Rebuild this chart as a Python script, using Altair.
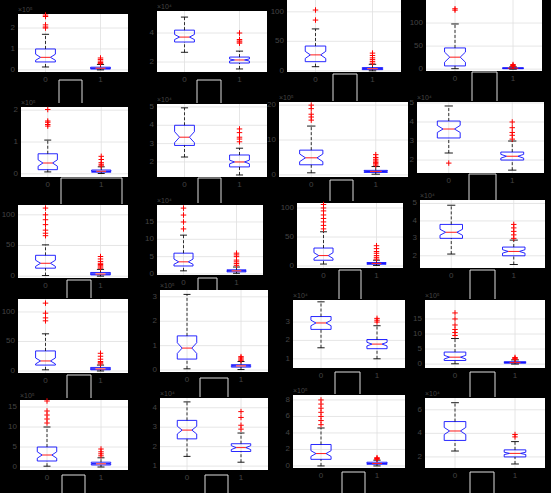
import altair as alt
import pandas as pd

# ---------------- data ----------------
groups = [0, 1]
group_labels = ["0", "1"]
exponents = ["×10⁵", "×10⁴", "", "",
             "×10⁵", "×10⁴", "×10⁵", "×10⁴",
             "", "×10⁴", "", "×10⁴",
             "", "×10⁵", "×10⁴", "×10⁵",
             "×10⁵", "×10⁴", "×10⁵", "×10⁴"]
y_min = [-0.1, 1.31, -2, -4, -0.1, 1.18, -0.6, 1.32, -3, -0.3, -3.4, 1.3,
         -3.4, -0.08, 0.5, -1.3, -0.75, 0.8, -0.25, 1.06]
y_max = [2.67, 5.52, 120, 150, 2.1, 5.16, 20.9, 5.05, 116, 19.9, 108.6, 5.2,
         122, 3.28, 4.2, 21.3, 16.75, 4.5, 8.6, 7.0]
y_ticks = [[0, 1, 2], [2, 4], [0, 50, 100], [0, 50, 100],
           [0, 1, 2], [2, 3, 4, 5], [0, 10, 20], [2, 3, 4, 5],
           [0, 50, 100], [0, 5, 10, 15], [0, 50, 100], [2, 3, 4, 5],
           [0, 50, 100], [0, 1, 2, 3], [1, 2, 3], [0, 5, 10, 15],
           [0, 5, 10, 15], [1, 2, 3, 4], [0, 2, 4, 6, 8], [2, 4, 6]]

q1 = [[0.38, 0.04], [3.38, 1.93], [15.5, 2], [7, 1], [0.13, 0.05], [2.9, 1.73], [2.9, 0.7], [3.16, 2.0],
      [13, 2], [2.3, 0.6], [10, 3], [3.0, 2.0], [10, 2], [0.45, 0.12], [2.6, 1.55], [1.2, 0.3],
      [1.5, 0.5], [2.4, 1.75], [0.8, 0.2], [3.4, 2.0]]
median = [[0.6, 0.08], [3.72, 2.14], [27, 3.5], [26, 2], [0.34, 0.08], [3.35, 2.0], [4.9, 1.0], [3.63, 2.2],
          [21, 3.5], [3.5, 0.9], [18, 4.5], [3.35, 2.25], [17, 3.5], [0.9, 0.17], [2.95, 1.8], [2.3, 0.5],
          [3.0, 0.8], [2.85, 1.95], [1.5, 0.3], [4.2, 2.3]]
q3 = [[1.0, 0.13], [4.2, 2.34], [42, 5.5], [46, 3], [0.63, 0.12], [4.0, 2.38], [7.1, 1.3], [4.05, 2.42],
      [34, 6], [6.0, 1.2], [31, 6], [3.8, 2.5], [34, 6], [1.4, 0.22], [3.3, 2.05], [4.0, 0.8],
      [5.0, 1.2], [3.35, 2.15], [2.6, 0.45], [5.0, 2.6]]
notch_lo = [[0.46, 0.07], [3.55, 2.07], [21, 3], [15, 1.7], [0.24, 0.07], [3.05, 1.9], [3.8, 0.9], [3.45, 2.1],
            [16, 3], [2.8, 0.8], [13, 4], [3.18, 2.15], [12, 3], [0.68, 0.15], [2.8, 1.7], [1.7, 0.45],
            [2.2, 0.7], [2.65, 1.85], [1.15, 0.27], [3.9, 2.2]]
notch_hi = [[0.75, 0.09], [3.9, 2.21], [33, 4], [37, 2.3], [0.44, 0.09], [3.65, 2.1], [6.0, 1.1], [3.82, 2.3],
            [26, 4], [4.3, 1.0], [23, 5], [3.52, 2.35], [22, 4], [1.12, 0.19], [3.1, 1.9], [2.9, 0.55],
            [3.8, 0.9], [3.05, 2.05], [1.85, 0.33], [4.5, 2.4]]
whisker_lo = [[0.14, 0.0], [2.67, 1.52], [7, 0], [1, 0], [0.06, 0.01], [2.27, 1.29], [0.6, 0.2], [2.37, 1.47],
              [1, 0], [0.9, 0.2], [3.4, 1], [2.1, 1.5], [2, 0], [0.05, 0.02], [1.6, 1.0], [0.1, 0],
              [0.2, 0], [1.5, 1.2], [0, 0], [2.5, 1.4]]
whisker_hi = [[1.7, 0.26], [5.1, 2.75], [71, 11], [98, 5], [1.06, 0.22], [4.95, 2.75], [14, 2.4], [4.84, 3.0],
              [51, 11], [11.2, 2.0], [59, 10], [4.9, 2.9], [63, 10], [3.1, 0.35], [4.1, 2.8], [8.5, 1.4],
              [10, 2.3], [4.3, 2.7], [4.6, 0.7], [6.6, 3.3]]
outliers = [
    [[2.0, 2.05, 2.15, 2.55, 2.62], [0.3, 0.35, 0.42, 0.5, 0.57]],
    [[], [3.3, 3.38, 3.45, 3.55, 4.0]],
    [[86, 103], [13, 16, 19, 22, 26, 30]],
    [[128, 131], [6, 8, 10]],
    [[1.5, 1.55, 1.62, 1.66, 2.02], [0.25, 0.3, 0.35, 0.45, 0.55]],
    [[], [3.1, 3.25, 3.35, 3.6, 3.8]],
    [[15.7, 16.6, 17.4, 19, 20], [2.8, 3.2, 3.6, 4.0, 4.5, 5.0, 5.8]],
    [[1.84], [3.1, 3.3, 3.45, 3.7, 4.0]],
    [[66, 70, 75, 84, 92, 100, 111], [13, 15, 17, 19, 21, 24, 28, 32]],
    [[13, 15, 17, 19], [2.5, 3, 3.5, 4, 5, 5.5, 6]],
    [[64, 70, 76, 82, 88, 95, 100, 106], [12, 15, 18, 22, 25, 30, 35]],
    [[], [3.0, 3.2, 3.4, 3.6, 3.8]],
    [[85, 90, 98, 115], [12, 14, 16, 20, 25, 30]],
    [[], [0.4, 0.45, 0.5, 0.55]],
    [[], [3.0, 3.1, 3.2]],
    [[9.5, 10.5, 11.5, 13, 15, 17], [1.6, 1.9, 2.2]],
    [[11, 12, 13, 14, 16.5], [2.8, 3.3, 3.8, 4.5]],
    [[], [2.9, 3.1, 3.5, 3.8]],
    [[5, 5.5, 6, 6.5, 7, 7.5, 8], [0.8, 0.9, 1.0]],
    [[], [3.7, 3.9]],
]

# ---------------- layout (pixels, page coordinates) ----------------
panel_left = [18, 157, 287, 426, 21, 157, 279, 417, 18, 157, 297, 420, 18, 160, 293, 425, 20, 160, 293, 425]
panel_right = [128, 267, 401, 542, 128, 267, 408, 544, 128, 263, 403, 545, 128, 268, 405, 545, 128, 268, 405, 545]
panel_top = [14, 11, 0, 0, 107, 104, 102, 102, 205, 205, 203, 200, 299, 290, 300, 300, 400, 398, 395, 398]
panel_bottom = [72, 72, 72, 71, 177, 177, 177, 173, 278, 275, 268, 268, 373, 372, 368, 368, 470, 470, 468, 468]
# white open frames under each panel: x0, x1, top, bottom
deco = [(59, 82, 80, 103), (197, 221, 80, 103), (333, 357, 74, 101), (472, 497, 72, 101),
        (61, 122, 178, 204), (198, 221, 178, 203), (330, 353, 180, 201), (469, 496, 174, 200),
        (67, 91, 280, 298), (198, 217, 278, 298), (339, 361, 270, 299), (470, 495, 270, 299),
        (67, 91, 375, 398), (200, 228, 378, 397), (335, 360, 372, 394), (470, 495, 372, 397),
        (62, 85, 475, 493), (205, 228, 475, 493), (342, 365, 472, 493), (470, 494, 472, 493)]

W, H = 551, 493
BOX_HALF = 0.18
NOTCH_HALF = 0.09
CAP_HALF = 0.065
LABEL = "#444444"
GRID = "#e0e0e0"
FONT = "Liberation Sans"
PLUS = "M-1,0L1,0M0,-1L0,1"


def make_panel(i):
    xsc = alt.Scale(domain=[-0.5, 1.5], range=[panel_left[i], panel_right[i]], nice=False, zero=False)
    ysc = alt.Scale(domain=[y_min[i], y_max[i]], range=[panel_bottom[i], panel_top[i]],
                    nice=False, zero=False)

    def X(f):
        return alt.X(f, scale=xsc, axis=None, title=None)

    def Y(f):
        return alt.Y(f, scale=ysc, axis=None, title=None)

    lo, hi = y_min[i], y_max[i]
    bg = alt.Chart(pd.DataFrame({"x": [-0.5], "x2": [1.5], "y": [lo], "y2": [hi]})).mark_rect(
        fill="white", strokeWidth=0).encode(x=X("x:Q"), x2="x2:Q", y=Y("y:Q"), y2="y2:Q")
    ygrid = alt.Chart(pd.DataFrame({"x": -0.5, "x2": 1.5, "y": y_ticks[i]})).mark_rule(
        color=GRID, strokeWidth=0.8).encode(x=X("x:Q"), x2="x2:Q", y=Y("y:Q"))
    xgrid = alt.Chart(pd.DataFrame({"x": groups, "y": lo, "y2": hi})).mark_rule(
        color=GRID, strokeWidth=0.8).encode(x=X("x:Q"), y=Y("y:Q"), y2="y2:Q")

    box_rows, wh_rows, cap_rows, med_rows, out_rows = [], [], [], [], []
    for g in groups:
        a, b = q1[i][g], q3[i][g]
        m, nl, nh = median[i][g], notch_lo[i][g], notch_hi[i][g]
        pts = [(g - BOX_HALF, a), (g - BOX_HALF, nl), (g - NOTCH_HALF, m), (g - BOX_HALF, nh),
               (g - BOX_HALF, b), (g + BOX_HALF, b), (g + BOX_HALF, nh), (g + NOTCH_HALF, m),
               (g + BOX_HALF, nl), (g + BOX_HALF, a), (g - BOX_HALF, a)]
        for k, (xv, yv) in enumerate(pts):
            box_rows.append({"g": g, "k": k, "x": xv, "y": yv})
        wh_rows.append({"x": g, "y": whisker_lo[i][g], "y2": a})
        wh_rows.append({"x": g, "y": b, "y2": whisker_hi[i][g]})
        for v in (whisker_lo[i][g], whisker_hi[i][g]):
            cap_rows.append({"x": g - CAP_HALF, "x2": g + CAP_HALF, "y": v})
        med_rows.append({"x": g - NOTCH_HALF, "x2": g + NOTCH_HALF, "y": m})
        for v in outliers[i][g]:
            out_rows.append({"x": g, "y": v})

    box = alt.Chart(pd.DataFrame(box_rows)).mark_line(color="#1010ff", strokeWidth=0.9).encode(
        x=X("x:Q"), y=Y("y:Q"), detail="g:N", order="k:Q")
    whisk = alt.Chart(pd.DataFrame(wh_rows)).mark_rule(
        color="black", strokeWidth=0.8, strokeDash=[3, 2]).encode(x=X("x:Q"), y=Y("y:Q"), y2="y2:Q")
    caps = alt.Chart(pd.DataFrame(cap_rows)).mark_rule(color="black", strokeWidth=0.9).encode(
        x=X("x:Q"), x2="x2:Q", y=Y("y:Q"))
    meds = alt.Chart(pd.DataFrame(med_rows)).mark_rule(color="red", strokeWidth=0.9).encode(
        x=X("x:Q"), x2="x2:Q", y=Y("y:Q"))
    layers = [bg, ygrid, xgrid, box, whisk, caps, meds]
    if out_rows:
        layers.append(alt.Chart(pd.DataFrame(out_rows)).mark_point(
            shape=PLUS, size=30, color="red", strokeWidth=1, filled=False, opacity=1).encode(
            x=X("x:Q"), y=Y("y:Q")))

    ylab = pd.DataFrame({"x": -0.5, "y": y_ticks[i], "t": [str(v) for v in y_ticks[i]]})
    layers.append(alt.Chart(ylab).mark_text(
        align="right", baseline="middle", dx=-3, fontSize=8, font=FONT, color=LABEL).encode(
        x=X("x:Q"), y=Y("y:Q"), text="t:N"))
    xlab = pd.DataFrame({"x": groups, "y": lo, "t": group_labels})
    layers.append(alt.Chart(xlab).mark_text(
        align="center", baseline="middle", dy=8, fontSize=8, font=FONT, color=LABEL).encode(
        x=X("x:Q"), y=Y("y:Q"), text="t:N"))
    if exponents[i]:
        ex = pd.DataFrame({"x": [-0.5], "y": [hi], "t": [exponents[i]]})
        layers.append(alt.Chart(ex).mark_text(
            align="left", baseline="bottom", dy=-1, fontSize=7, font=FONT, color=LABEL).encode(
            x=X("x:Q"), y=Y("y:Q"), text="t:N"))

    # white open frame below the panel (decoration)
    x0, x1, t0, t1 = deco[i]
    one = pd.DataFrame({"s": [0]})
    fr = dict(color="#dddddd", strokeWidth=1)
    layers.append(alt.Chart(one).mark_rule(**fr).encode(x=alt.value(x0), y=alt.value(t0), y2=alt.value(t1)))
    layers.append(alt.Chart(one).mark_rule(**fr).encode(x=alt.value(x1), y=alt.value(t0), y2=alt.value(t1)))
    layers.append(alt.Chart(one).mark_rule(**fr).encode(x=alt.value(x0), x2=alt.value(x1), y=alt.value(t0)))
    return alt.layer(*layers)


panels = [make_panel(i) for i in range(20)]
chart = alt.layer(*panels).resolve_scale(x="independent", y="independent").properties(
    width=W, height=H, padding=0, autosize=alt.AutoSizeParams(type="none")
).configure(background="black").configure_view(strokeWidth=0)

chart.save("out.html", embed_options={"renderer": "svg", "actions": False})
